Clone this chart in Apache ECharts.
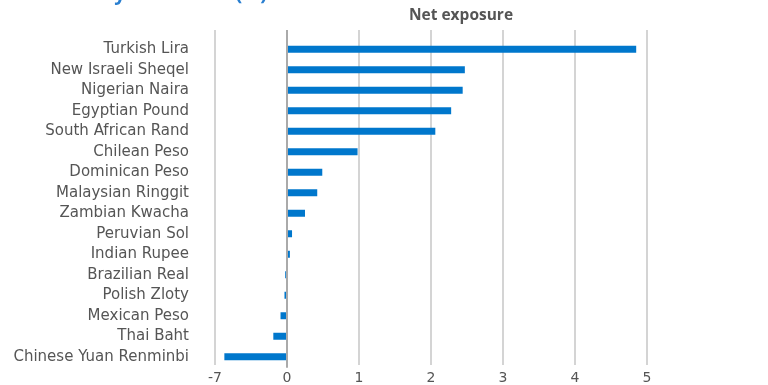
<!DOCTYPE html>
<html>
<head>
<meta charset="utf-8">
<script src="https://cdn.jsdelivr.net/npm/echarts@6/dist/echarts.min.js"></script>
<style>html,body{margin:0;padding:0;background:#fff}#c{width:768px;height:385px}</style>
</head>
<body>
<div id="c"></div>
<script>
const currencies = ['Turkish Lira','New Israeli Sheqel','Nigerian Naira','Egyptian Pound','South African Rand','Chilean Peso','Dominican Peso','Malaysian Ringgit','Zambian Kwacha','Peruvian Sol','Indian Rupee','Brazilian Real','Polish Zloty','Mexican Peso','Thai Baht','Chinese Yuan Renminbi'];
const netExposure = [4.85, 2.47, 2.44, 2.28, 2.06, 0.98, 0.49, 0.42, 0.25, 0.07, 0.04, -0.025, -0.035, -0.09, -0.19, -0.87];
const tickValues = [-1, 0, 1, 2, 3, 4, 5];
const tickLabels = ['-7', '0', '1', '2', '3', '4', '5'];
const titleText = 'Currency allocation (%)';
const axisTitle = 'Net exposure';

const FONT = 'DejaVu Sans';
const chart = echarts.init(document.getElementById('c'), null, {renderer: 'canvas'});
chart.setOption({
  animation: false,
  backgroundColor: '#fff',
  graphic: [
    {type: 'text', x: 267, y: -6, style: {text: titleText, font: 'bold 20px "Open Sans"', fill: '#2a7fd0', align: 'right', verticalAlign: 'middle'}},
    {type: 'text', x: 461, y: 16, style: {text: axisTitle, font: 'bold 15.5px "Open Sans"', fill: '#555', align: 'center', verticalAlign: 'middle'}}
  ],
  grid: [
    {left: 215, right: 121, top: 30, bottom: 17},
    {left: 215, right: 121, top: 39, bottom: 18}
  ],
  xAxis: [
    {gridIndex: 0, type: 'value', min: tickValues[0], max: tickValues[tickValues.length - 1], interval: 1,
     axisLine: {show: false}, axisTick: {show: false},
     axisLabel: {show: true, margin: 6, color: '#555', fontFamily: FONT, fontSize: 14,
       formatter: v => tickLabels[tickValues.indexOf(v)]},
     splitLine: {show: true, lineStyle: {width: 2, color: ['#d4d4d4', '#aaaaaa', '#d4d4d4', '#d4d4d4', '#d4d4d4', '#d4d4d4', '#d4d4d4']}}},
    {gridIndex: 1, type: 'value', min: tickValues[0], max: tickValues[tickValues.length - 1], interval: 1,
     axisLine: {show: false}, axisTick: {show: false}, axisLabel: {show: false}, splitLine: {show: false}}
  ],
  yAxis: [
    {gridIndex: 0, type: 'category', data: [], show: false},
    {gridIndex: 1, type: 'category', data: currencies, inverse: true, z: 3,
     axisLine: {show: true, onZero: true, lineStyle: {color: '#aaaaaa', width: 2}},
     axisTick: {show: false},
     axisLabel: {color: '#555', fontFamily: FONT, fontSize: 15, margin: 26},
     splitLine: {show: false}}
  ],
  series: [{
    type: 'bar', xAxisIndex: 1, yAxisIndex: 1, data: netExposure,
    barWidth: 7, itemStyle: {color: '#0077cc'}, z: 2
  }]
});
</script>
</body>
</html>
